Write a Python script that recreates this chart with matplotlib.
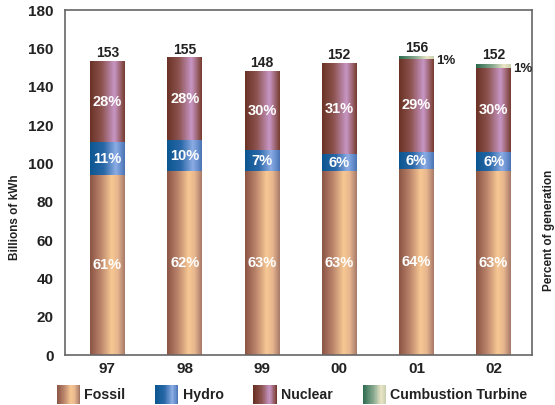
import numpy as np
import matplotlib
matplotlib.use("Agg")
import matplotlib.pyplot as plt
from matplotlib.colors import LinearSegmentedColormap
from matplotlib.patches import Rectangle
from matplotlib.legend_handler import HandlerBase

plt.rcParams['font.family'] = ['Liberation Sans', 'DejaVu Sans']
plt.rcParams['font.weight'] = 'bold'

years = ['97', '98', '99', '00', '01', '02']
fossil = [94, 96, 96, 96, 97, 96]
hydro = [17, 16, 11, 9, 9, 10]
nuclear = [42, 43, 41, 47, 48.5, 44]
turbine = [0, 0, 0, 0, 1.5, 2]
totals = [153, 155, 148, 152, 156, 152]

pct_fossil = ['61%', '62%', '63%', '63%', '64%', '63%']
pct_hydro = ['11%', '10%', '7%', '6%', '6%', '6%']
pct_nuclear = ['28%', '28%', '30%', '31%', '29%', '30%']
pct_turbine = ['', '', '', '', '1%', '1%']

names = ['Fossil', 'Hydro', 'Nuclear', 'Cumbustion Turbine']

# horizontal shading for each fuel type
cmaps = {
    'Fossil': LinearSegmentedColormap.from_list('fos', [
        (0.0, '#8a5444'), (0.3, '#b8826a'), (0.62, '#f7c893'),
        (0.8, '#e6b58e'), (1.0, '#a67868')]),
    'Hydro': LinearSegmentedColormap.from_list('hyd', [
        (0.0, '#0a5690'), (0.4, '#2a68a8'), (0.74, '#8cace4'),
        (0.87, '#6a92d0'), (1.0, '#4a72b2')]),
    'Nuclear': LinearSegmentedColormap.from_list('nuc', [
        (0.0, '#6a3124'), (0.35, '#8e5552'), (0.7, '#c896c6'),
        (0.85, '#a06a78'), (1.0, '#763a2e')]),
    'Cumbustion Turbine': LinearSegmentedColormap.from_list('ct', [
        (0.0, '#2c6a4e'), (0.5, '#8fae94'), (0.8, '#ece6c6'),
        (1.0, '#c8d0b0')]),
}

grad = np.linspace(0, 1, 256).reshape(1, -1)


def shade(ax, bars, cmap):
    for b in bars:
        x, y = b.get_x(), b.get_y()
        w, h = b.get_width(), b.get_height()
        if h <= 0:
            continue
        ax.imshow(grad, cmap=cmap, aspect='auto', interpolation='bilinear',
                  extent=[x, x + w, y, y + h], zorder=2)
        b.set_visible(False)


class GradHandler(HandlerBase):
    def __init__(self, cmap):
        super().__init__()
        self.cmap = cmap

    def create_artists(self, legend, orig_handle, xdescent, ydescent,
                       width, height, fontsize, trans):
        n = 40
        arts = []
        for i in range(n):
            r = Rectangle((-xdescent + width * i / n, -ydescent - 2),
                          width / n * 1.05, height + 4,
                          facecolor=self.cmap(i / (n - 1)), edgecolor='none',
                          transform=trans)
            arts.append(r)
        return arts


fig = plt.figure(figsize=(5.55, 4.05), dpi=100)
ax = fig.add_axes([0.117, 0.123, 0.842, 0.852])

x = np.arange(len(years))
w = 0.45
bottom = np.zeros(len(years))
containers = []
for name, vals in zip(names, [fossil, hydro, nuclear, turbine]):
    vals = np.array(vals, dtype=float)
    bc = ax.bar(x, vals, w, bottom=bottom, color=cmaps[name](0.6), label=name)
    shade(ax, bc, cmaps[name])
    containers.append((bc, vals, bottom.copy()))
    bottom += vals

# percent labels inside segments
for (bc, vals, bot), labels in zip(containers[:3], [pct_fossil, pct_hydro, pct_nuclear]):
    for xi, v, b0, lab in zip(x, vals, bot, labels):
        ax.text(xi, b0 + v / 2, lab, ha='center', va='center',
                color='white', fontsize=10.5, fontweight='bold', zorder=5)

for xi, top, lab in zip(x, bottom, pct_turbine):
    if lab:
        ax.text(xi + w / 2 + 0.03, top - 2.5, lab, ha='left', va='center',
                color='#222222', fontsize=9.5, fontweight='bold', zorder=5)

for xi, top, t in zip(x, bottom, totals):
    ax.text(xi, top + 0.8, str(t), ha='center', va='bottom',
            color='#222222', fontsize=10, fontweight='bold', zorder=5)

ax.set_xlim(-0.55, 5.5)
ax.set_ylim(0, 180)
ax.set_yticks(range(0, 181, 20))
ax.set_xticks(x)
ax.set_xticklabels(years)
ax.tick_params(length=0, labelsize=11, colors='#222222', pad=8)
ax.tick_params(axis='x', pad=5)
for s in ax.spines.values():
    s.set_color('#666666')
    s.set_linewidth(1.2)

ax.set_ylabel('Billions of kWh', fontsize=8.5, fontweight='bold', color='#222222')
ax.yaxis.set_label_coords(-0.095, 0.40)
fig.text(0.99, 0.43, 'Percent of generation', rotation=90, ha='center',
         va='center', fontsize=8.5, fontweight='bold', color='#222222')

handles = [c[0] for c in containers]
leg = fig.legend(handles, names, loc='lower left', bbox_to_anchor=(0.079, -0.025),
                 ncol=4, frameon=False, fontsize=10.2, handlelength=1.65,
                 handleheight=1.0, columnspacing=2.1, handletextpad=0.3,
                 handler_map={h: GradHandler(cmaps[n]) for h, n in zip(handles, names)})
for t in leg.get_texts():
    t.set_color('#222222')
    t.set_fontweight('bold')

fig.savefig('out.png', dpi=100)
